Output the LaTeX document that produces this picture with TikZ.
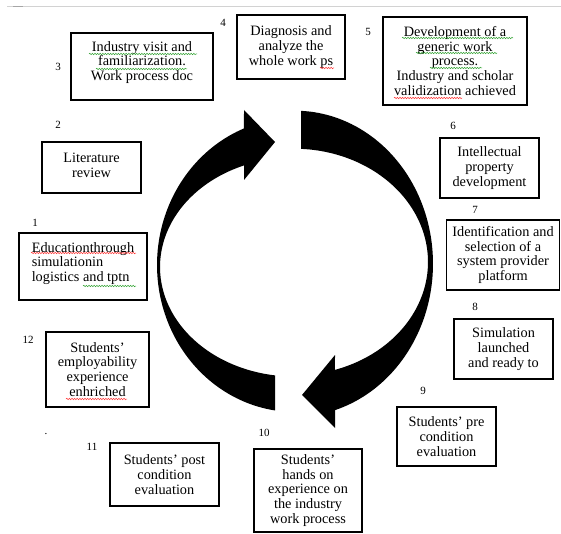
\documentclass[tikz,border=0pt]{standalone}
\usepackage{fontspec}
\setmainfont{Liberation Serif}
\newfontfamily\boxfont{Liberation Serif}
\usetikzlibrary{decorations.pathmorphing}
\begin{document}
\begin{tikzpicture}[x=1pt,y=-1pt,
  boxtext/.style={align=center, inner sep=0pt, font=\boxfont\fontsize{14.3}{14.8}\selectfont},
  stepbox/.style={draw, line width=1.5pt, boxtext},
  numlabel/.style={font=\boxfont\fontsize{11}{12}\selectfont, inner sep=0pt},
  squig/.style={line width=0.5pt, decorate, decoration={snake, amplitude=0.7pt, segment length=2.6pt}},
  greensq/.style={squig, draw=green!55!black!80},
  redsq/.style={squig, draw=red!80}]
\useasboundingbox (0,0) rectangle (561,534);
\fill[white] (0,0) rectangle (561,534);
% top rule
\draw[gray!35, line width=0.8pt] (7,6) -- (561,6);
\draw[gray!70, line width=0.8pt] (13,6) -- (23,6);

% boxes
\node[stepbox, minimum width=142pt, minimum height=67pt] (b3) at (142,66.5) {};
\node[boxtext] (b3t) at (142,62.5) {Industry visit and\\familiarization.\\Work process doc};
\node[stepbox, minimum width=108pt, minimum height=64pt] (b4) at (291,47) {Diagnosis and\\analyze the\\whole work ps};
\node[stepbox, minimum width=144pt, minimum height=88pt] (b5) at (455,61) {Development of a\\generic work\\process.\\Industry and scholar\\validization achieved};
\node[stepbox, minimum width=99pt, minimum height=51pt] (b2) at (91.5,167.5) {};
\node[boxtext] (b2t) at (91.5,165) {Literature\\review};
\node[stepbox, minimum width=128pt, minimum height=67pt] (b1) at (83,266.5) {};
\node[boxtext, align=left] (b1t) at (83,263.5) {Educationthrough\\simulationin\\logistics and tptn};
\node[stepbox, minimum width=99pt, minimum height=60pt] (b6) at (489.5,168) {Intellectual\\property\\development};
\node[stepbox, minimum width=113pt, minimum height=70pt] (b7) at (503,255) {Identification and\\selection of a\\system provider\\platform};
\node[stepbox, minimum width=99pt, minimum height=60pt] (b8) at (503.5,349) {Simulation\\launched\\and ready to};
\node[stepbox, minimum width=99pt, minimum height=59pt] (b9) at (446.5,436.5) {Students’ pre\\condition\\evaluation};
\node[stepbox, minimum width=108pt, minimum height=83pt] (b10) at (308,490.5) {Students’\\hands on\\experience on\\the industry\\work process};
\node[stepbox, minimum width=109pt, minimum height=63pt] (b11) at (164.5,474.5) {Students’ post\\condition\\evaluation};
\node[stepbox, minimum width=103pt, minimum height=75pt] (b12) at (97.5,369.5) {Students’\\employability\\experience\\enhriched};

% spell-check underlines
\draw[greensq] (89,54) -- (197,54);
\draw[greensq] (96,69) -- (187,69);
\draw[redsq] (320,68) -- (334,68);
\draw[greensq] (402,38) -- (513,38);
\draw[greensq] (416,53) -- (497,53);
\draw[greensq] (430,68) -- (482,68);
\draw[redsq] (394,98) -- (462,98);
\draw[redsq] (31,253) -- (136,253);
\draw[greensq] (83,286) -- (136,286);
\draw[redsq] (66,399) -- (127,399);

% number labels
\node[numlabel] (n1) at (35,223) {1};
\node[numlabel] (n2) at (58,125) {2};
\node[numlabel] (n3) at (58,67) {3};
\node[numlabel] (n4) at (223,23) {4};
\node[numlabel] (n5) at (368,32) {5};
\node[numlabel] (n6) at (453,126) {6};
\node[numlabel] (n7) at (475,210) {7};
\node[numlabel] (n8) at (475,307) {8};
\node[numlabel] (n9) at (423,391) {9};
\node[numlabel] (n10) at (264,433) {10};
\node[numlabel] (n11) at (92,447) {11};
\node[numlabel] (n12) at (28,340) {12};
\node[numlabel, anchor=base] (dot) at (46,434) {.};

% left circular arrow (bottom -> left -> top)
\fill[black] plot[domain=98.33:248.3, samples=90] ({295+138*cos(\x)},{265+147*sin(\x)})
  -- (244,110) -- (275,142) -- (244,180)
  -- plot[domain=248.1:98.15, samples=90] ({294+134*cos(\x)},{267+109.5*sin(\x)}) -- cycle;
% right circular arrow (top -> right -> bottom)
\fill[black] plot[domain=272.5:433.15, samples=90] ({295+138*cos(\x)},{263.7+153*sin(\x)})
  -- (335,428) -- (302,395) -- (335,355)
  -- plot[domain=432.2:273, samples=90] ({294+134*cos(\x)},{262+113.3*sin(\x)}) -- cycle;
\end{tikzpicture}
\end{document}
